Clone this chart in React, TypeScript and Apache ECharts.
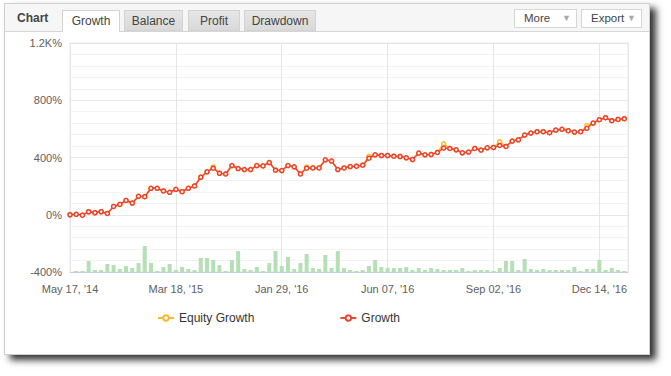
import React, { useEffect, useRef } from "react";
import * as echarts from "echarts";

const tickLabels = ["May 17, '14", "Mar 18, '15", "Jan 29, '16", "Jun 07, '16", "Sep 02, '16", "Dec 14, '16"];
const tickStep = 17;

const growth = [
  0, 3, -3, 21, 14, 21, 9, 58, 72, 100,
  82, 129, 126, 185, 185, 166, 157, 178, 161, 185,
  201, 262, 300, 325, 290, 285, 344, 323, 316, 316,
  344, 341, 365, 311, 309, 344, 335, 285, 325, 327,
  327, 384, 375, 316, 327, 337, 339, 346, 395, 419,
  414, 414, 409, 407, 398, 386, 431, 419, 421, 435,
  466, 463, 454, 433, 438, 463, 452, 468, 470, 484,
  477, 515, 524, 557, 571, 580, 580, 573, 592, 597,
  587, 578, 580, 604, 641, 664, 678, 657, 666, 671,
];

const equity = [
  0, 3, -3, 21, 14, 21, 9, 58, 72, 100,
  82, 129, 126, 185, 185, 166, 157, 178, 161, 185,
  201, 262, 300, 334, 290, 285, 344, 323, 316, 316,
  344, 341, 365, 311, 309, 344, 335, 285, 334, 327,
  327, 384, 375, 316, 327, 337, 339, 346, 408, 419,
  414, 414, 409, 407, 398, 386, 431, 419, 421, 435,
  496, 463, 454, 433, 438, 463, 452, 468, 470, 510,
  477, 515, 524, 557, 571, 580, 580, 573, 592, 597,
  587, 578, 580, 622, 641, 664, 678, 657, 666, 671,
];

const activity = [
  0, 1, 1, 11, 2, 2, 8, 7, 3, 6,
  4, 9, 26, 9, 1, 5, 8, 2, 5, 3,
  2, 14, 14, 12, 7, 1, 12, 21, 3, 2,
  5, 1, 9, 21, 6, 15, 3, 9, 18, 4,
  3, 17, 4, 21, 4, 2, 1, 2, 6, 12,
  5, 4, 4, 4, 5, 2, 4, 2, 4, 3,
  2, 2, 2, 4, 1, 2, 2, 2, 1, 4,
  11, 11, 2, 13, 3, 2, 3, 2, 2, 2,
  2, 5, 1, 3, 3, 12, 2, 4, 2, 1,
];

const tabs = ["Growth", "Balance", "Profit", "Drawdown"];
const FONT = "'Liberation Sans', Arial, sans-serif";

export default function App() {
  const ref = useRef<HTMLDivElement>(null);

  useEffect(() => {
    document.body.style.margin = "0";
    const chart = echarts.init(ref.current!, null, { renderer: "svg" });
    chart.setOption({
      animation: false,
      textStyle: { fontFamily: FONT },
      grid: {
        left: 70,
        right: 43,
        top: 43,
        bottom: 104,
        show: true,
        borderColor: "#e6e6e6",
        borderWidth: 1,
        backgroundColor: "transparent",
      },
      legend: {
        left: 152,
        top: 307,
        itemGap: 85,
        itemWidth: 16,
        itemHeight: 7,
        data: ["Equity Growth", "Growth"],
        textStyle: { fontSize: 12, color: "#333", fontFamily: FONT },
      },
      xAxis: {
        type: "value",
        min: 0,
        max: growth.length - 0.4,
        interval: tickStep,
        axisLine: { show: true, onZero: false, lineStyle: { color: "#c0d0e0" } },
        axisTick: { show: false },
        splitLine: { show: true, lineStyle: { color: "#e6e6e6" } },
        axisLabel: {
          color: "#606060",
          fontSize: 11,
          margin: 11,
          showMaxLabel: false,
          formatter: (v: number) => (v % tickStep === 0 ? tickLabels[v / tickStep] ?? "" : ""),
        },
      },
      yAxis: [
        {
          type: "value",
          min: -400,
          max: 1200,
          interval: 400,
          axisLine: { show: false },
          axisTick: { show: false },
          splitLine: { lineStyle: { color: "#e6e6e6" } },
          minorSplitLine: { show: true, lineStyle: { color: "#f3f3f3" } },
          minorTick: { show: false, splitNumber: 5 },
          axisLabel: {
            color: "#606060",
            fontSize: 11,
            margin: 8,
            formatter: (v: number) => (Math.abs(v) >= 1000 ? v / 1000 + "K%" : v + "%"),
          },
        },
        {
          type: "value",
          min: 0,
          max: 229,
          show: false,
          splitLine: { show: false },
        },
      ],
      series: [
        {
          name: "Activity",
          type: "bar",
          yAxisIndex: 1,
          barWidth: 4,
          itemStyle: { color: "#b5e0b5" },
          data: activity.map((v, i) => [i, v]),
          z: 1,
        },
        {
          name: "Equity Growth",
          type: "line",
          data: equity.map((v, i) => [i, v]),
          symbol: "circle",
          symbolSize: 4,
          lineStyle: { color: "#fbb829", width: 1.5 },
          itemStyle: { color: "#fff", borderColor: "#fbb829", borderWidth: 1.5 },
          z: 2,
        },
        {
          name: "Growth",
          type: "line",
          data: growth.map((v, i) => [i, v]),
          symbol: "circle",
          symbolSize: 4,
          lineStyle: { color: "#ee4a2a", width: 1.5 },
          itemStyle: { color: "#fff", borderColor: "#ee4030", borderWidth: 1.5 },
          z: 3,
        },
      ],
    });
    return () => chart.dispose();
  }, []);

  const tabX = [62, 124, 188, 244];
  const tabW = [58, 59, 52, 72];

  return (
    <div style={{ position: "absolute", left: 0, top: 0, width: 671, height: 376, background: "#fff", fontFamily: FONT, overflow: "hidden" }}>
      <div
        style={{
          position: "absolute",
          left: 4,
          top: 3,
          width: 646,
          height: 352,
          background: "#fff",
          border: "1px solid #d0d0d0",
          boxShadow: "6px 5px 7px rgba(0,0,0,0.8)",
          boxSizing: "border-box",
        }}
      />
      <div style={{ position: "absolute", left: 5, top: 4, width: 644, height: 27, background: "#f6f6f6", borderBottom: "1px solid #d6d6d6" }} />
      <div style={{ position: "absolute", left: 17, top: 11, fontSize: 12, fontWeight: "bold", color: "#444" }}>Chart</div>
      {tabs.map((t, i) => (
        <div
          key={t}
          style={{
            position: "absolute",
            left: tabX[i],
            top: 10,
            width: tabW[i],
            height: i === 0 ? 22 : 21,
            boxSizing: "border-box",
            border: "1px solid #d3d3d3",
            borderBottom: i === 0 ? "none" : "1px solid #d3d3d3",
            background: i === 0 ? "#fff" : "linear-gradient(#e6e6e6, #d9d9d9)",
            fontSize: 12,
            color: "#444",
            textAlign: "center",
            lineHeight: "21px",
          }}
        >
          {t}
        </div>
      ))}
      {[
        { t: "More", x: 514, w: 63 },
        { t: "Export", x: 581, w: 61 },
      ].map((b) => (
        <div
          key={b.t}
          style={{
            position: "absolute",
            left: b.x,
            top: 9,
            width: b.w,
            height: 19,
            boxSizing: "border-box",
            border: "1px solid #d6d6d6",
            background: "#fff",
            fontSize: 11.5,
            color: "#444",
            lineHeight: "17px",
            paddingLeft: 9,
          }}
        >
          {b.t}
          <span style={{ position: "absolute", right: 5, top: 0, fontSize: 9, color: "#aaa" }}>▼</span>
        </div>
      ))}
      <div ref={ref} style={{ position: "absolute", left: 0, top: 0, width: 671, height: 376 }} />
    </div>
  );
}
